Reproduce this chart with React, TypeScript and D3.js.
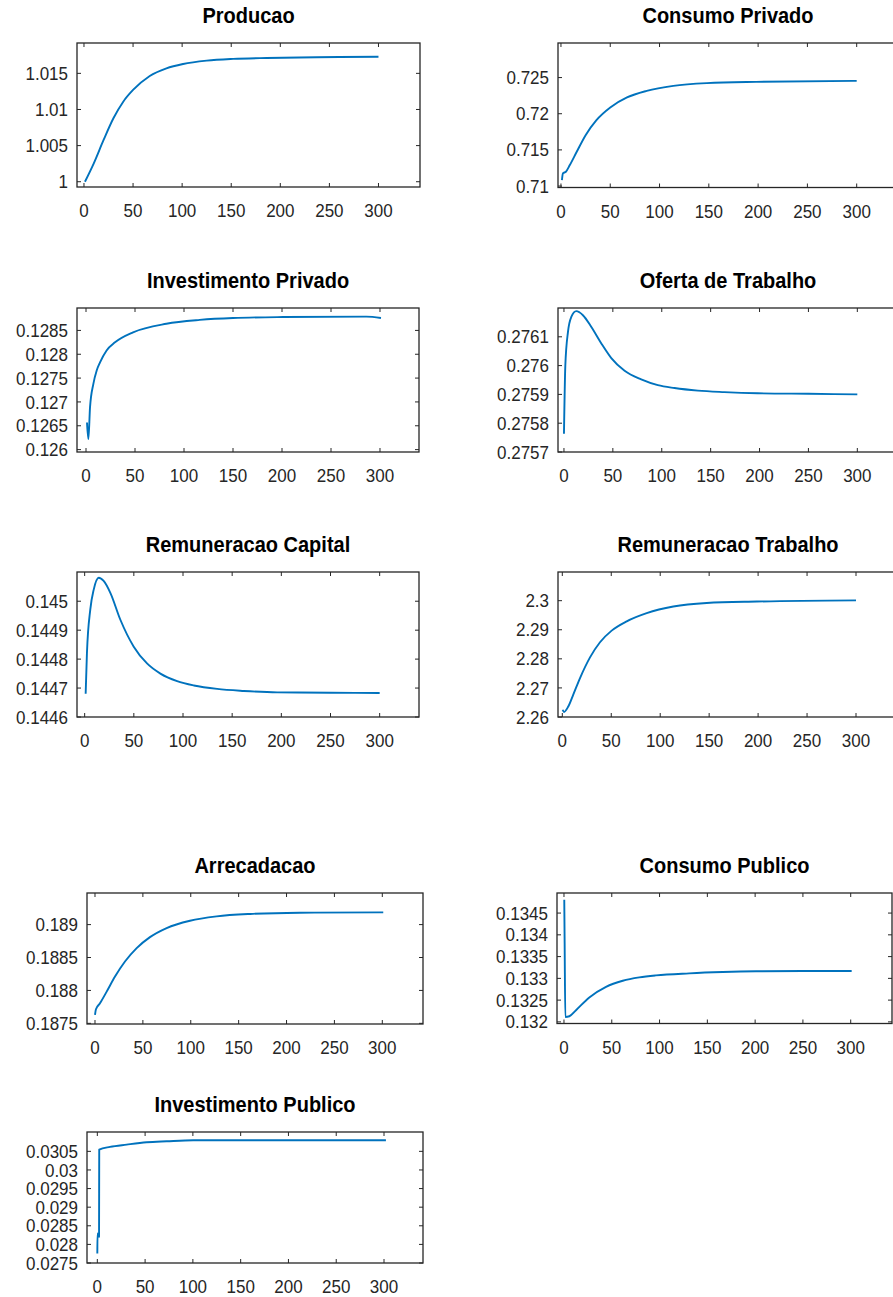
import * as d3 from "d3";

// periods and values
const producaoT = [1, 10, 20, 30, 40, 50, 67, 84, 101, 125, 152, 186, 237, 300];
const producaoY = [1.0, 1.00255, 1.00578, 1.00878, 1.01108, 1.0127, 1.01464, 1.0157, 1.0163, 1.01676, 1.017, 1.01713, 1.01722, 1.0173];
const producaoTicks = [1, 1.005, 1.01, 1.015];

const consumoPrivT = [1, 2, 5, 9, 16, 25, 36, 50, 67, 87, 114, 148, 198, 300];
const consumoPrivY = [0.71083, 0.71175, 0.71198, 0.7129, 0.71474, 0.71704, 0.71912, 0.72087, 0.72225, 0.72316, 0.72385, 0.72423, 0.72441, 0.72454];
const consumoPrivTicks = [0.71, 0.715, 0.72, 0.725];

const investPrivT = [1, 2.4, 4.1, 7.5, 10.9, 14.3, 21, 29.6, 48, 82, 116, 150, 201, 286, 301];
const investPrivY = [0.12657, 0.12622, 0.12689, 0.12738, 0.12766, 0.12783, 0.12808, 0.12825, 0.12846, 0.12864, 0.12872, 0.12876, 0.12878, 0.12879, 0.12876];
const investPrivTicks = [0.126, 0.1265, 0.127, 0.1275, 0.128, 0.1285];

const ofertaT = [0, 1.4, 4.1, 7.5, 12.6, 19.4, 28, 38.2, 48.4, 62, 79, 96, 113, 137, 164, 198, 250, 300];
const ofertaY = [0.275763, 0.276001, 0.276117, 0.276169, 0.276189, 0.276175, 0.276134, 0.276077, 0.276026, 0.275982, 0.275952, 0.275932, 0.275922, 0.275913, 0.275908, 0.275904, 0.275902, 0.2759];
const ofertaTicks = [0.2757, 0.2758, 0.2759, 0.276, 0.2761];

const remCapitalT = [1, 2.3, 5.7, 9.2, 14.3, 19.3, 26.1, 36.3, 49.9, 63.4, 77, 94, 111, 134.7, 161.9, 195.8, 250, 300];
const remCapitalY = [0.14468, 0.14482, 0.144971, 0.14504, 0.145081, 0.14507, 0.145029, 0.144936, 0.144843, 0.144785, 0.14475, 0.144724, 0.144709, 0.144697, 0.14469, 0.144685, 0.144684, 0.144683];
const remCapitalTicks = [0.1446, 0.1447, 0.1448, 0.1449, 0.145];

const remTrabalhoT = [0.4, 1.7, 6.1, 11.2, 18.1, 28.3, 38.5, 50.4, 65.8, 86.2, 113.4, 147.5, 198.6, 300];
const remTrabalhoY = [2.2625, 2.2617, 2.2636, 2.2677, 2.2734, 2.2805, 2.2857, 2.2897, 2.2929, 2.2957, 2.298, 2.2992, 2.2997, 2.3001];
const remTrabalhoTicks = [2.26, 2.27, 2.28, 2.29, 2.3];

const arrecadacaoT = [0, 1, 5.2, 12.2, 20.9, 31.3, 43.5, 57.4, 74.8, 99.2, 127, 162, 214, 301];
const arrecadacaoY = [0.187627, 0.187713, 0.187805, 0.187982, 0.18821, 0.188439, 0.188643, 0.18881, 0.188948, 0.189059, 0.189125, 0.189162, 0.189181, 0.189186];
const arrecadacaoTicks = [0.1875, 0.188, 0.1885, 0.189];

const consumoPubT = [0.3, 0.7, 1.4, 5.6, 12.6, 26.5, 44, 61.5, 78.8, 96.3, 131, 166, 201, 250, 301];
const consumoPubY = [0.134807, 0.133808, 0.132114, 0.13213, 0.132269, 0.132562, 0.132806, 0.132945, 0.133023, 0.133069, 0.133115, 0.133145, 0.133162, 0.133168, 0.13317];
const consumoPubTicks = [0.132, 0.1325, 0.133, 0.1335, 0.134, 0.1345];

const investPubT = [0, 0.2, 1.8, 2.0, 13.3, 30.7, 51.6, 72.6, 100.5, 142.3, 302];
const investPubY = [0.027754, 0.028295, 0.028203, 0.030546, 0.030619, 0.03068, 0.030743, 0.03077, 0.030797, 0.030797, 0.030797];
const investPubTicks = [0.0275, 0.028, 0.0285, 0.029, 0.0295, 0.03, 0.0305];

const xTicks = [0, 50, 100, 150, 200, 250, 300];

const panels = [
  { title: "Producao", t: producaoT, v: producaoY, ticks: producaoTicks, box: [77, 43, 420, 187], xd: [-7.1, 342.3], yd: [0.99927, 1.0192] },
  { title: "Consumo Privado", t: consumoPrivT, v: consumoPrivY, ticks: consumoPrivTicks, box: [558, 43, 898, 187.5], xd: [-3.0, 341.9], yd: [0.7098, 0.72978] },
  { title: "Investimento Privado", t: investPrivT, v: investPrivY, ticks: investPrivTicks, box: [77, 308, 419, 452], xd: [-9.2, 339.8], yd: [0.12595, 0.12897] },
  { title: "Oferta de Trabalho", t: ofertaT, v: ofertaY, ticks: ofertaTicks, box: [558, 308, 898, 452], xd: [-6.1, 341.6], yd: [0.2757, 0.2762] },
  { title: "Remuneracao Capital", t: remCapitalT, v: remCapitalY, ticks: remCapitalTicks, box: [77, 572, 419, 717], xd: [-7.8, 340], yd: [0.1446, 0.145101] },
  { title: "Remuneracao Trabalho", t: remTrabalhoT, v: remTrabalhoY, ticks: remTrabalhoTicks, box: [558, 572, 898, 717], xd: [-4.4, 342.9], yd: [2.26, 2.30986] },
  { title: "Arrecadacao", t: arrecadacaoT, v: arrecadacaoY, ticks: arrecadacaoTicks, box: [87, 893, 423, 1024], xd: [-8.35, 342.5], yd: [0.18749, 0.18948] },
  { title: "Consumo Publico", t: consumoPubT, v: consumoPubY, ticks: consumoPubTicks, box: [557, 893, 892, 1023.5], xd: [-7.3, 343.2], yd: [0.131963, 0.134961] },
  { title: "Investimento Publico", t: investPubT, v: investPubY, ticks: investPubTicks, box: [87, 1132, 423, 1263], xd: [-10.8, 340.8], yd: [0.0275, 0.03102] },
];

const axisColor = "#262626";
const font = "'Liberation Sans', Arial, Helvetica, sans-serif";

// text in the reference is a little taller than wide
const Label = ({ x, y, anchor, size, bold, fill, children }: any) => (
  <text
    transform={`translate(${x},${y}) scale(1,1.1)`}
    textAnchor={anchor}
    fontFamily={font}
    fontWeight={bold ? "bold" : "normal"}
    fontSize={size}
    fill={fill}
  >
    {children}
  </text>
);

const Panel = ({ p }: { p: any }) => {
  const [left, top, right, bottom] = p.box;
  const x = d3.scaleLinear().domain(p.xd).range([left, right]);
  const y = d3.scaleLinear().domain(p.yd).range([bottom, top]);
  const line = d3
    .line<number>()
    .x((_, i) => x(p.t[i]))
    .y((d) => y(d))
    .curve(d3.curveMonotoneX);
  const tl = 4;

  return (
    <g>
      <Label x={(left + right) / 2} y={top - 20} anchor="middle" size={20} bold fill="#000">
        {p.title}
      </Label>
      <path d={line(p.v) || ""} fill="none" stroke="#0072BD" strokeWidth={1.9} strokeLinejoin="round" />
      {xTicks.map((t) => (
        <g key={"x" + t}>
          <line x1={x(t)} x2={x(t)} y1={bottom} y2={bottom - tl} stroke={axisColor} strokeWidth={1} />
          <line x1={x(t)} x2={x(t)} y1={top} y2={top + tl} stroke={axisColor} strokeWidth={1} />
          <Label x={x(t)} y={bottom + 30} anchor="middle" size={17} fill={axisColor}>
            {t}
          </Label>
        </g>
      ))}
      {p.ticks.map((t: number) => (
        <g key={"y" + t}>
          <line x1={left} x2={left + tl} y1={y(t)} y2={y(t)} stroke={axisColor} strokeWidth={1} />
          <line x1={right} x2={right - tl} y1={y(t)} y2={y(t)} stroke={axisColor} strokeWidth={1} />
          <Label x={left - 9} y={y(t) + 6.6} anchor="end" size={17} fill={axisColor}>
            {String(t)}
          </Label>
        </g>
      ))}
      <rect x={left} y={top} width={right - left} height={bottom - top} fill="none" stroke={axisColor} strokeWidth={1.3} />
    </g>
  );
};

export default function App() {
  return (
    <svg width={893} height={1297} style={{ position: "absolute", left: 0, top: 0, background: "#fff" }}>
      <rect width={893} height={1297} fill="#fff" />
      {panels.map((p) => (
        <Panel key={p.title} p={p} />
      ))}
    </svg>
  );
}
